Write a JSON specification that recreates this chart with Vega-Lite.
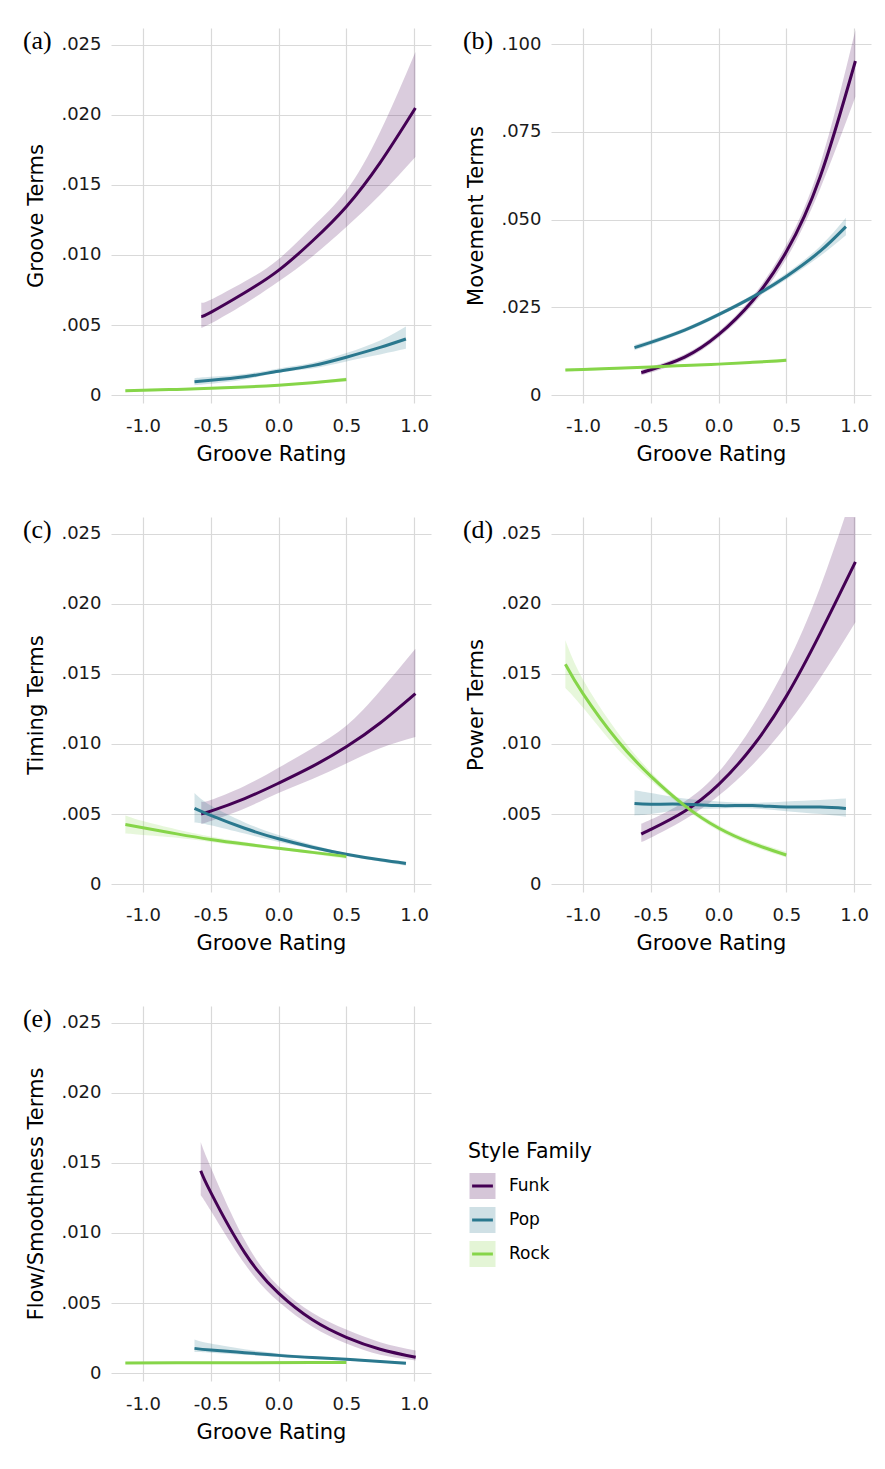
{
  "$schema": "https://vega.github.io/schema/vega-lite/v6.json",
  "background": "white",
  "padding": {"left": 22, "top": 28, "right": 13, "bottom": 8},
  "autosize": {"type": "pad"},
  "datasets": {
    "d": [
      {"panel":"a","family":"Funk","x":-0.57,"y":0.0056,"lo":0.0048,"hi":0.0066},
      {"panel":"a","family":"Funk","x":-0.5,"y":0.0059,"lo":0.0051,"hi":0.0068},
      {"panel":"a","family":"Funk","x":-0.25,"y":0.0073,"lo":0.0065,"hi":0.0081},
      {"panel":"a","family":"Funk","x":0,"y":0.0089,"lo":0.0081,"hi":0.0097},
      {"panel":"a","family":"Funk","x":0.25,"y":0.011,"lo":0.0099,"hi":0.012},
      {"panel":"a","family":"Funk","x":0.5,"y":0.01345,"lo":0.012,"hi":0.0146},
      {"panel":"a","family":"Funk","x":0.75,"y":0.0166,"lo":0.0143,"hi":0.0188},
      {"panel":"a","family":"Funk","x":1.01,"y":0.0205,"lo":0.017,"hi":0.0245},
      {"panel":"a","family":"Pop","x":-0.62,"y":0.00095,"lo":0.0007,"hi":0.0012},
      {"panel":"a","family":"Pop","x":-0.5,"y":0.00105,"lo":0.0008,"hi":0.0013},
      {"panel":"a","family":"Pop","x":-0.25,"y":0.0013,"lo":0.0011,"hi":0.0015},
      {"panel":"a","family":"Pop","x":0,"y":0.0017,"lo":0.0016,"hi":0.0019},
      {"panel":"a","family":"Pop","x":0.25,"y":0.0021,"lo":0.0019,"hi":0.0023},
      {"panel":"a","family":"Pop","x":0.5,"y":0.0027,"lo":0.0024,"hi":0.003},
      {"panel":"a","family":"Pop","x":0.75,"y":0.0034,"lo":0.0029,"hi":0.0039},
      {"panel":"a","family":"Pop","x":0.94,"y":0.004,"lo":0.0033,"hi":0.0049},
      {"panel":"a","family":"Rock","x":-1.13,"y":0.0003,"lo":0.0002,"hi":0.0004},
      {"panel":"a","family":"Rock","x":-1.0,"y":0.00034,"lo":0.00025,"hi":0.00043},
      {"panel":"a","family":"Rock","x":-0.75,"y":0.0004,"lo":0.00032,"hi":0.00048},
      {"panel":"a","family":"Rock","x":-0.5,"y":0.00048,"lo":0.0004,"hi":0.00056},
      {"panel":"a","family":"Rock","x":-0.25,"y":0.00057,"lo":0.0005,"hi":0.00064},
      {"panel":"a","family":"Rock","x":0,"y":0.0007,"lo":0.00063,"hi":0.00077},
      {"panel":"a","family":"Rock","x":0.25,"y":0.00088,"lo":0.0008,"hi":0.00096},
      {"panel":"a","family":"Rock","x":0.5,"y":0.0011,"lo":0.00095,"hi":0.00125},

      {"panel":"b","family":"Funk","x":-0.57,"y":0.0064,"lo":0.0056,"hi":0.0072},
      {"panel":"b","family":"Funk","x":-0.5,"y":0.0072,"lo":0.0064,"hi":0.008},
      {"panel":"b","family":"Funk","x":-0.25,"y":0.0108,"lo":0.01,"hi":0.0116},
      {"panel":"b","family":"Funk","x":0,"y":0.0172,"lo":0.0163,"hi":0.0181},
      {"panel":"b","family":"Funk","x":0.25,"y":0.0268,"lo":0.0256,"hi":0.028},
      {"panel":"b","family":"Funk","x":0.5,"y":0.0408,"lo":0.0388,"hi":0.0428},
      {"panel":"b","family":"Funk","x":0.75,"y":0.0622,"lo":0.0588,"hi":0.0658},
      {"panel":"b","family":"Funk","x":1.01,"y":0.0952,"lo":0.085,"hi":0.104},
      {"panel":"b","family":"Pop","x":-0.62,"y":0.0135,"lo":0.0127,"hi":0.0143},
      {"panel":"b","family":"Pop","x":-0.5,"y":0.015,"lo":0.0143,"hi":0.0157},
      {"panel":"b","family":"Pop","x":-0.25,"y":0.0185,"lo":0.0179,"hi":0.0191},
      {"panel":"b","family":"Pop","x":0,"y":0.0229,"lo":0.0223,"hi":0.0235},
      {"panel":"b","family":"Pop","x":0.25,"y":0.0279,"lo":0.0272,"hi":0.0286},
      {"panel":"b","family":"Pop","x":0.5,"y":0.0338,"lo":0.0329,"hi":0.0347},
      {"panel":"b","family":"Pop","x":0.75,"y":0.041,"lo":0.0396,"hi":0.0424},
      {"panel":"b","family":"Pop","x":0.94,"y":0.048,"lo":0.0455,"hi":0.0505},
      {"panel":"b","family":"Rock","x":-1.13,"y":0.0071,"lo":0.0067,"hi":0.0075},
      {"panel":"b","family":"Rock","x":-1.0,"y":0.0073,"lo":0.0069,"hi":0.0077},
      {"panel":"b","family":"Rock","x":-0.75,"y":0.0076,"lo":0.0073,"hi":0.0079},
      {"panel":"b","family":"Rock","x":-0.5,"y":0.008,"lo":0.0077,"hi":0.0083},
      {"panel":"b","family":"Rock","x":-0.25,"y":0.0084,"lo":0.0081,"hi":0.0087},
      {"panel":"b","family":"Rock","x":0,"y":0.0088,"lo":0.0085,"hi":0.0091},
      {"panel":"b","family":"Rock","x":0.25,"y":0.0093,"lo":0.0089,"hi":0.0097},
      {"panel":"b","family":"Rock","x":0.5,"y":0.0099,"lo":0.0094,"hi":0.0104},

      {"panel":"c","family":"Funk","x":-0.57,"y":0.005,"lo":0.0043,"hi":0.0059},
      {"panel":"c","family":"Funk","x":-0.5,"y":0.0052,"lo":0.0045,"hi":0.006},
      {"panel":"c","family":"Funk","x":-0.25,"y":0.0061,"lo":0.0054,"hi":0.007},
      {"panel":"c","family":"Funk","x":0,"y":0.0072,"lo":0.0065,"hi":0.0083},
      {"panel":"c","family":"Funk","x":0.25,"y":0.0084,"lo":0.0075,"hi":0.0097},
      {"panel":"c","family":"Funk","x":0.5,"y":0.0098,"lo":0.0086,"hi":0.0113},
      {"panel":"c","family":"Funk","x":0.75,"y":0.0115,"lo":0.0097,"hi":0.0138},
      {"panel":"c","family":"Funk","x":1.01,"y":0.0136,"lo":0.0105,"hi":0.0168},
      {"panel":"c","family":"Pop","x":-0.62,"y":0.0054,"lo":0.0044,"hi":0.0065},
      {"panel":"c","family":"Pop","x":-0.5,"y":0.0049,"lo":0.0042,"hi":0.0056},
      {"panel":"c","family":"Pop","x":-0.25,"y":0.00398,"lo":0.0036,"hi":0.0044},
      {"panel":"c","family":"Pop","x":0,"y":0.00323,"lo":0.003,"hi":0.0035},
      {"panel":"c","family":"Pop","x":0.25,"y":0.00263,"lo":0.0025,"hi":0.0028},
      {"panel":"c","family":"Pop","x":0.5,"y":0.00213,"lo":0.002,"hi":0.0022},
      {"panel":"c","family":"Pop","x":0.75,"y":0.00173,"lo":0.0016,"hi":0.0018},
      {"panel":"c","family":"Pop","x":0.94,"y":0.00147,"lo":0.0013,"hi":0.0016},
      {"panel":"c","family":"Rock","x":-1.13,"y":0.00425,"lo":0.0036,"hi":0.0049},
      {"panel":"c","family":"Rock","x":-1.0,"y":0.00402,"lo":0.0035,"hi":0.0045},
      {"panel":"c","family":"Rock","x":-0.75,"y":0.00358,"lo":0.0033,"hi":0.0039},
      {"panel":"c","family":"Rock","x":-0.5,"y":0.00318,"lo":0.003,"hi":0.0034},
      {"panel":"c","family":"Rock","x":-0.25,"y":0.00285,"lo":0.0027,"hi":0.003},
      {"panel":"c","family":"Rock","x":0,"y":0.00255,"lo":0.00245,"hi":0.00265},
      {"panel":"c","family":"Rock","x":0.25,"y":0.00226,"lo":0.00215,"hi":0.00237},
      {"panel":"c","family":"Rock","x":0.5,"y":0.00197,"lo":0.0018,"hi":0.0021},

      {"panel":"d","family":"Funk","x":-0.57,"y":0.00356,"lo":0.003,"hi":0.0043},
      {"panel":"d","family":"Funk","x":-0.5,"y":0.0039,"lo":0.0033,"hi":0.0046},
      {"panel":"d","family":"Funk","x":-0.25,"y":0.0052,"lo":0.0046,"hi":0.0059},
      {"panel":"d","family":"Funk","x":0,"y":0.0071,"lo":0.0063,"hi":0.008},
      {"panel":"d","family":"Funk","x":0.25,"y":0.0098,"lo":0.0085,"hi":0.0113},
      {"panel":"d","family":"Funk","x":0.5,"y":0.0134,"lo":0.0113,"hi":0.0156},
      {"panel":"d","family":"Funk","x":0.75,"y":0.0179,"lo":0.0147,"hi":0.0212},
      {"panel":"d","family":"Funk","x":1.01,"y":0.023,"lo":0.0187,"hi":0.0285},
      {"panel":"d","family":"Pop","x":-0.62,"y":0.00575,"lo":0.0049,"hi":0.0067},
      {"panel":"d","family":"Pop","x":-0.5,"y":0.0057,"lo":0.005,"hi":0.0065},
      {"panel":"d","family":"Pop","x":-0.25,"y":0.0057,"lo":0.0053,"hi":0.0061},
      {"panel":"d","family":"Pop","x":0,"y":0.0056,"lo":0.0054,"hi":0.0059},
      {"panel":"d","family":"Pop","x":0.25,"y":0.0056,"lo":0.0054,"hi":0.0058},
      {"panel":"d","family":"Pop","x":0.5,"y":0.0055,"lo":0.0052,"hi":0.0059},
      {"panel":"d","family":"Pop","x":0.75,"y":0.0055,"lo":0.005,"hi":0.006},
      {"panel":"d","family":"Pop","x":0.94,"y":0.0054,"lo":0.0048,"hi":0.0061},
      {"panel":"d","family":"Rock","x":-1.13,"y":0.0157,"lo":0.014,"hi":0.0174},
      {"panel":"d","family":"Rock","x":-1.0,"y":0.0136,"lo":0.0126,"hi":0.0146},
      {"panel":"d","family":"Rock","x":-0.75,"y":0.0103,"lo":0.0097,"hi":0.0109},
      {"panel":"d","family":"Rock","x":-0.5,"y":0.0077,"lo":0.0074,"hi":0.008},
      {"panel":"d","family":"Rock","x":-0.25,"y":0.0056,"lo":0.0054,"hi":0.0058},
      {"panel":"d","family":"Rock","x":0,"y":0.004,"lo":0.0038,"hi":0.0042},
      {"panel":"d","family":"Rock","x":0.25,"y":0.0029,"lo":0.0027,"hi":0.0031},
      {"panel":"d","family":"Rock","x":0.5,"y":0.00207,"lo":0.0019,"hi":0.0023},

      {"panel":"e","family":"Funk","x":-0.574,"y":0.01445,"lo":0.0127,"hi":0.0165},
      {"panel":"e","family":"Funk","x":-0.5,"y":0.0129,"lo":0.0116,"hi":0.0147},
      {"panel":"e","family":"Funk","x":-0.25,"y":0.0086,"lo":0.0078,"hi":0.0095},
      {"panel":"e","family":"Funk","x":0,"y":0.0057,"lo":0.0051,"hi":0.0062},
      {"panel":"e","family":"Funk","x":0.25,"y":0.0038,"lo":0.0033,"hi":0.0043},
      {"panel":"e","family":"Funk","x":0.5,"y":0.00255,"lo":0.0021,"hi":0.0031},
      {"panel":"e","family":"Funk","x":0.75,"y":0.0017,"lo":0.0013,"hi":0.0022},
      {"panel":"e","family":"Funk","x":1.012,"y":0.00112,"lo":0.0009,"hi":0.0016},
      {"panel":"e","family":"Pop","x":-0.62,"y":0.00176,"lo":0.0015,"hi":0.0024},
      {"panel":"e","family":"Pop","x":-0.5,"y":0.00164,"lo":0.00145,"hi":0.0021},
      {"panel":"e","family":"Pop","x":-0.25,"y":0.00145,"lo":0.0013,"hi":0.0017},
      {"panel":"e","family":"Pop","x":0,"y":0.00126,"lo":0.00115,"hi":0.0014},
      {"panel":"e","family":"Pop","x":0.25,"y":0.0011,"lo":0.001,"hi":0.0012},
      {"panel":"e","family":"Pop","x":0.5,"y":0.00098,"lo":0.0009,"hi":0.00106},
      {"panel":"e","family":"Pop","x":0.75,"y":0.00083,"lo":0.00075,"hi":0.0009},
      {"panel":"e","family":"Pop","x":0.94,"y":0.0007,"lo":0.0006,"hi":0.0008},
      {"panel":"e","family":"Rock","x":-1.13,"y":0.00072,"lo":0.00067,"hi":0.00077},
      {"panel":"e","family":"Rock","x":-0.75,"y":0.00073,"lo":0.00069,"hi":0.00077},
      {"panel":"e","family":"Rock","x":-0.25,"y":0.00074,"lo":0.0007,"hi":0.00078},
      {"panel":"e","family":"Rock","x":0.25,"y":0.00075,"lo":0.00071,"hi":0.00079},
      {"panel":"e","family":"Rock","x":0.5,"y":0.00076,"lo":0.0007,"hi":0.00082}
    ]
  },
  "data": {"name": "d"},
  "columns": 2,
  "bounds": "flush",
  "spacing": {"row": 114, "column": 120},
  "concat": [
    {
      "width": 320, "height": 375,
      "title": "(a)",
      "transform": [{"filter": "datum.panel == 'a'"}],
      "encoding": {"x": {"field": "x", "type": "quantitative", "scale": {"domain": [-1.236, 1.125], "nice": false, "zero": false}, "axis": {"title": "Groove Rating", "values": [-1, -0.5, 0, 0.5, 1], "labelExpr": "(datum.value < 0 ? '-' : '') + format(abs(datum.value), '.1f')"}}},
      "layer": [
        {"mark": {"type": "area", "interpolate": "natural", "fillOpacity": 0.2, "clip": true},
         "encoding": {
           "y": {"field": "lo", "type": "quantitative", "scale": {"domain": [-0.00057, 0.02621], "nice": false, "zero": false}, "axis": {"title": "Groove Terms", "values": [0, 0.005, 0.01, 0.015, 0.02, 0.025], "labelExpr": "datum.value == 0 ? '0' : replace(format(datum.value, '.3f'), '0.', '.')"}},
           "y2": {"field": "hi"},
           "fill": {"field": "family", "type": "nominal", "scale": {"domain": ["Funk", "Pop", "Rock"], "range": ["#440154", "#2A788E", "#86D549"]}}
         }},
        {"mark": {"type": "line", "interpolate": "natural", "strokeWidth": 3, "clip": true},
         "encoding": {
           "y": {"field": "y", "type": "quantitative", "title": "Groove Terms"},
           "stroke": {"field": "family", "type": "nominal", "scale": {"range": ["#440154", "#2A788E", "#86D549"]}}
         }}
      ]
    },
    {
      "width": 320, "height": 375,
      "title": "(b)",
      "transform": [{"filter": "datum.panel == 'b'"}],
      "encoding": {"x": {"field": "x", "type": "quantitative", "scale": {"domain": [-1.236, 1.125], "nice": false, "zero": false}, "axis": {"title": "Groove Rating", "values": [-1, -0.5, 0, 0.5, 1], "labelExpr": "(datum.value < 0 ? '-' : '') + format(abs(datum.value), '.1f')"}}},
      "layer": [
        {"mark": {"type": "area", "interpolate": "natural", "fillOpacity": 0.2, "clip": true},
         "encoding": {
           "y": {"field": "lo", "type": "quantitative", "scale": {"domain": [-0.00228, 0.1046], "nice": false, "zero": false}, "axis": {"title": "Movement Terms", "values": [0, 0.025, 0.05, 0.075, 0.1], "labelExpr": "datum.value == 0 ? '0' : replace(format(datum.value, '.3f'), '0.', '.')"}},
           "y2": {"field": "hi"},
           "fill": {"field": "family", "type": "nominal", "scale": {"domain": ["Funk", "Pop", "Rock"], "range": ["#440154", "#2A788E", "#86D549"]}}
         }},
        {"mark": {"type": "line", "interpolate": "natural", "strokeWidth": 3, "clip": true},
         "encoding": {
           "y": {"field": "y", "type": "quantitative", "title": "Movement Terms"},
           "stroke": {"field": "family", "type": "nominal", "scale": {"range": ["#440154", "#2A788E", "#86D549"]}}
         }}
      ]
    },
    {
      "width": 320, "height": 375,
      "title": "(c)",
      "transform": [{"filter": "datum.panel == 'c'"}],
      "encoding": {"x": {"field": "x", "type": "quantitative", "scale": {"domain": [-1.236, 1.125], "nice": false, "zero": false}, "axis": {"title": "Groove Rating", "values": [-1, -0.5, 0, 0.5, 1], "labelExpr": "(datum.value < 0 ? '-' : '') + format(abs(datum.value), '.1f')"}}},
      "layer": [
        {"mark": {"type": "area", "interpolate": "natural", "fillOpacity": 0.2, "clip": true},
         "encoding": {
           "y": {"field": "lo", "type": "quantitative", "scale": {"domain": [-0.00057, 0.02621], "nice": false, "zero": false}, "axis": {"title": "Timing Terms", "values": [0, 0.005, 0.01, 0.015, 0.02, 0.025], "labelExpr": "datum.value == 0 ? '0' : replace(format(datum.value, '.3f'), '0.', '.')"}},
           "y2": {"field": "hi"},
           "fill": {"field": "family", "type": "nominal", "scale": {"domain": ["Funk", "Pop", "Rock"], "range": ["#440154", "#2A788E", "#86D549"]}}
         }},
        {"mark": {"type": "line", "interpolate": "natural", "strokeWidth": 3, "clip": true},
         "encoding": {
           "y": {"field": "y", "type": "quantitative", "title": "Timing Terms"},
           "stroke": {"field": "family", "type": "nominal", "scale": {"range": ["#440154", "#2A788E", "#86D549"]}}
         }}
      ]
    },
    {
      "width": 320, "height": 375,
      "title": "(d)",
      "transform": [{"filter": "datum.panel == 'd'"}],
      "encoding": {"x": {"field": "x", "type": "quantitative", "scale": {"domain": [-1.236, 1.125], "nice": false, "zero": false}, "axis": {"title": "Groove Rating", "values": [-1, -0.5, 0, 0.5, 1], "labelExpr": "(datum.value < 0 ? '-' : '') + format(abs(datum.value), '.1f')"}}},
      "layer": [
        {"mark": {"type": "area", "interpolate": "natural", "fillOpacity": 0.2, "clip": true},
         "encoding": {
           "y": {"field": "lo", "type": "quantitative", "scale": {"domain": [-0.00057, 0.02621], "nice": false, "zero": false}, "axis": {"title": "Power Terms", "values": [0, 0.005, 0.01, 0.015, 0.02, 0.025], "labelExpr": "datum.value == 0 ? '0' : replace(format(datum.value, '.3f'), '0.', '.')"}},
           "y2": {"field": "hi"},
           "fill": {"field": "family", "type": "nominal", "scale": {"domain": ["Funk", "Pop", "Rock"], "range": ["#440154", "#2A788E", "#86D549"]}}
         }},
        {"mark": {"type": "line", "interpolate": "natural", "strokeWidth": 3, "clip": true},
         "encoding": {
           "y": {"field": "y", "type": "quantitative", "title": "Power Terms"},
           "stroke": {"field": "family", "type": "nominal", "scale": {"range": ["#440154", "#2A788E", "#86D549"]}}
         }}
      ]
    },
    {
      "width": 320, "height": 375,
      "title": "(e)",
      "transform": [{"filter": "datum.panel == 'e'"}],
      "encoding": {"x": {"field": "x", "type": "quantitative", "scale": {"domain": [-1.236, 1.125], "nice": false, "zero": false}, "axis": {"title": "Groove Rating", "values": [-1, -0.5, 0, 0.5, 1], "labelExpr": "(datum.value < 0 ? '-' : '') + format(abs(datum.value), '.1f')"}}},
      "layer": [
        {"mark": {"type": "area", "interpolate": "natural", "fillOpacity": 0.2, "clip": true},
         "encoding": {
           "y": {"field": "lo", "type": "quantitative", "scale": {"domain": [-0.00057, 0.02621], "nice": false, "zero": false}, "axis": {"title": "Flow/Smoothness Terms", "values": [0, 0.005, 0.01, 0.015, 0.02, 0.025], "labelExpr": "datum.value == 0 ? '0' : replace(format(datum.value, '.3f'), '0.', '.')"}},
           "y2": {"field": "hi"},
           "fill": {"field": "family", "type": "nominal", "scale": {"domain": ["Funk", "Pop", "Rock"], "range": ["#440154", "#2A788E", "#86D549"]},
             "legend": {"title": "Style Family", "orient": "none", "legendX": 357, "legendY": 1114, "symbolType": "M-1,-1H1V1H-1Z", "symbolOpacity": 0.22, "symbolStrokeColor": "transparent", "symbolStrokeWidth": 3}}
         }},
        {"mark": {"type": "line", "interpolate": "natural", "strokeWidth": 3, "clip": true},
         "encoding": {
           "y": {"field": "y", "type": "quantitative", "title": "Flow/Smoothness Terms"},
           "stroke": {"field": "family", "type": "nominal", "scale": {"range": ["#440154", "#2A788E", "#86D549"]},
             "legend": {"title": "Style Family", "orient": "none", "legendX": 357, "legendY": 1114, "symbolType": "M-1,-1M1,1M-0.8,0H0.8", "symbolFillColor": "transparent", "symbolStrokeWidth": 3, "titleOpacity": 0, "labelOpacity": 0}}
         }}
      ]
    }
  ],
  "config": {
    "view": {"stroke": null},
    "axis": {"domain": false, "ticks": false, "grid": true, "gridColor": "#d9d9d9", "gridWidth": 1.2, "labelFlush": false, "labelFont": "DejaVu Sans", "labelFontSize": 18, "labelColor": "#1a1a1a", "titleFont": "DejaVu Sans", "titleFontSize": 21, "titleFontWeight": "normal", "titleColor": "#000000"},
    "axisX": {"labelPadding": 14, "titlePadding": 8},
    "axisY": {"labelPadding": 10, "titlePadding": 14},
    "title": {"font": "Liberation Serif", "fontSize": 26, "fontWeight": "normal", "color": "#000000", "anchor": "start", "frame": "bounds", "offset": 0, "baseline": "middle", "dy": 30, "dx": -3},
    "legend": {"titleFont": "DejaVu Sans", "titleFontSize": 20.5, "titleFontWeight": "normal", "titleColor": "#000000", "labelFont": "DejaVu Sans", "labelFontSize": 17, "labelColor": "#000000", "padding": 0, "titlePadding": 9, "rowPadding": -7.5, "labelOffset": 12, "symbolSize": 676}
  }
}
